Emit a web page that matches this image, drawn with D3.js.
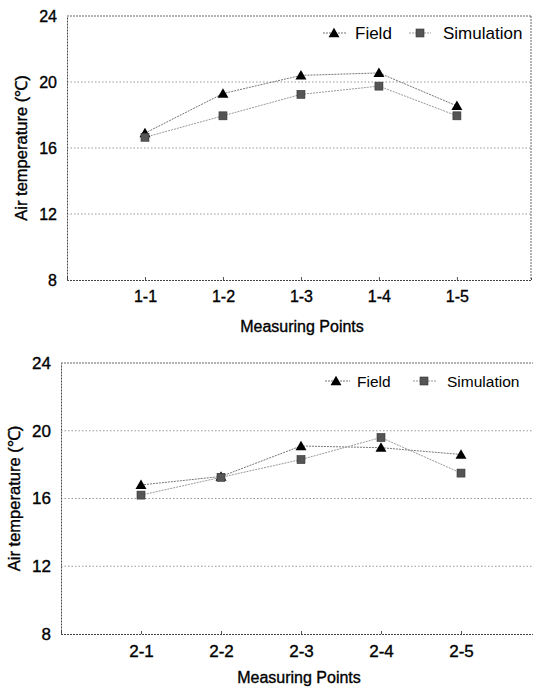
<!DOCTYPE html>
<html>
<head>
<meta charset="utf-8">
<script src="https://cdn.jsdelivr.net/npm/d3@7"></script>
<style>
  html, body { margin: 0; padding: 0; background: #fff; }
  svg { display: block; }
  text { font-family: "Liberation Sans", Arial, sans-serif; fill: #000; }
</style>
</head>
<body>
<svg id="chart" width="533" height="687"></svg>
<script>
// ---- data ----
const categoriesTop = ["1-1", "1-2", "1-3", "1-4", "1-5"];
const fieldTop = [16.9, 19.3, 20.4, 20.55, 18.55];
const simulationTop = [16.65, 17.95, 19.25, 19.75, 17.95];

const categoriesBottom = ["2-1", "2-2", "2-3", "2-4", "2-5"];
const fieldBottom = [16.8, 17.3, 19.1, 19.0, 18.6];
const simulationBottom = [16.2, 17.25, 18.3, 19.6, 17.5];

const yTicks = [8, 12, 16, 20, 24];
const seriesNames = ["Field", "Simulation"];
const xTitle = "Measuring Points";
const yTitle = "Air temperature (\u2103)";

// ---- layout ----
const svg = d3.select("#chart");

const panels = [
  { cats: categoriesTop, field: fieldTop, sim: simulationTop,
    left: 67, right: 531, top: 16, bottom: 280, xMax: 5.95, drawRight: true,
    tickFont: 16, tickLabelDy: 22, xTitleY: 332, yTitleX: 21,
    legendY: 33, legend: [{x1: 323, x2: 346, mx: 334, tx: 355}, {x1: 409, x2: 431, mx: 420, tx: 443}], legendFont: 17 },
  { cats: categoriesBottom, field: fieldBottom, sim: simulationBottom,
    left: 61, right: 533, top: 363, bottom: 634, xMax: 5.9, drawRight: false,
    tickFont: 17, tickLabelDy: 23, xTitleY: 683, yTitleX: 14,
    legendY: 381, legend: [{x1: 325, x2: 350, mx: 336, tx: 357}, {x1: 413, x2: 436, mx: 424, tx: 447}], legendFont: 15.5 }
];

const triangle = d3.symbol().type(d3.symbolTriangle).size(52);

function drawTri(g, x, y) {
  g.append("path").attr("d", triangle()).attr("transform", `translate(${x},${y+1})`)
    .attr("fill", "#000");
}
function drawSq(g, x, y) {
  g.append("rect").attr("x", x - 4).attr("y", y - 4).attr("width", 8).attr("height", 8)
    .attr("fill", "#555").attr("stroke", "#333").attr("stroke-width", 0.6);
}
function thicken(sel) {
  sel.attr("stroke", "#000").attr("stroke-width", 0.35).attr("fill", "#000");
}

panels.forEach(p => {
  const g = svg.append("g");
  const x = d3.scaleLinear().domain([0, p.xMax]).range([p.left, p.right]);
  const y = d3.scaleLinear().domain([8, 24]).range([p.bottom, p.top]);

  // gridlines
  g.selectAll("line.grid").data(yTicks.filter(t => t > 8 && t < 24)).enter()
    .append("line")
    .attr("x1", p.left).attr("x2", p.right)
    .attr("y1", d => y(d)).attr("y2", d => y(d))
    .attr("stroke", "#999").attr("stroke-width", 1).attr("stroke-dasharray", "1.5,2");

  // frame
  const frameStroke = "#666";
  g.append("line").attr("x1", p.left).attr("x2", p.right).attr("y1", y(24)).attr("y2", y(24))
    .attr("stroke", frameStroke).attr("stroke-dasharray", "2,1");
  if (p.drawRight) {
    g.append("line").attr("x1", p.right).attr("x2", p.right).attr("y1", y(24)).attr("y2", y(8))
      .attr("stroke", frameStroke).attr("stroke-dasharray", "2,1");
  }

  // axes
  const yAxis = d3.axisLeft(y).tickValues(yTicks).tickSize(0).tickPadding(10).tickFormat(d3.format("d"));
  const ya = g.append("g").attr("transform", `translate(${p.left},0)`).call(yAxis);
  ya.select(".domain").attr("stroke", "#444").attr("stroke-dasharray", "2,1");
  ya.selectAll("text").attr("font-size", p.tickFont).attr("font-family", "Liberation Sans, Arial, sans-serif").call(thicken);

  const xAxis = d3.axisBottom(x).tickValues(d3.range(1, p.cats.length + 1))
    .tickFormat(i => p.cats[i - 1]).tickSize(-3).tickPadding(0);
  const xa = g.append("g").attr("transform", `translate(0,${p.bottom})`).call(xAxis);
  xa.select(".domain").attr("stroke", "#444").attr("stroke-dasharray", "2,1");
  xa.selectAll(".tick line").attr("stroke", "#555");
  xa.selectAll("text").attr("font-size", p.tickFont).attr("y", 0).attr("dy", p.tickLabelDy)
    .attr("font-family", "Liberation Sans, Arial, sans-serif").call(thicken);

  // titles
  g.append("text").attr("x", (p.left + 531) / 2 + 3).attr("y", p.xTitleY)
    .attr("text-anchor", "middle").attr("font-size", 16).text(xTitle).call(thicken);
  g.append("text").attr("transform", `translate(${p.yTitleX},${(p.top + p.bottom) / 2}) rotate(-90)`)
    .attr("text-anchor", "middle").attr("dominant-baseline", "central")
    .attr("font-size", 16.5).text(yTitle).call(thicken);

  // series lines
  const line = d3.line().x((d, i) => x(i + 1)).y(d => y(d));
  g.append("path").datum(p.field).attr("d", line).attr("fill", "none")
    .attr("stroke", "#777").attr("stroke-width", 1).attr("stroke-dasharray", "2,1");
  g.append("path").datum(p.sim).attr("d", line).attr("fill", "none")
    .attr("stroke", "#999").attr("stroke-width", 1).attr("stroke-dasharray", "2,1");

  // markers
  p.field.forEach((v, i) => drawTri(g, x(i + 1), y(v)));
  p.sim.forEach((v, i) => drawSq(g, x(i + 1), y(v)));

  // legend
  const L = p.legend;
  g.append("line").attr("x1", L[0].x1).attr("x2", L[0].x2).attr("y1", p.legendY).attr("y2", p.legendY)
    .attr("stroke", "#777").attr("stroke-dasharray", "2,1");
  drawTri(g, L[0].mx, p.legendY);
  g.append("text").attr("x", L[0].tx).attr("y", p.legendY).attr("dominant-baseline", "central")
    .attr("font-size", p.legendFont).text(seriesNames[0]);
  g.append("line").attr("x1", L[1].x1).attr("x2", L[1].x2).attr("y1", p.legendY).attr("y2", p.legendY)
    .attr("stroke", "#999").attr("stroke-dasharray", "2,1");
  drawSq(g, L[1].mx, p.legendY);
  g.append("text").attr("x", L[1].tx).attr("y", p.legendY).attr("dominant-baseline", "central")
    .attr("font-size", p.legendFont).text(seriesNames[1]);
});
</script>
</body>
</html>
